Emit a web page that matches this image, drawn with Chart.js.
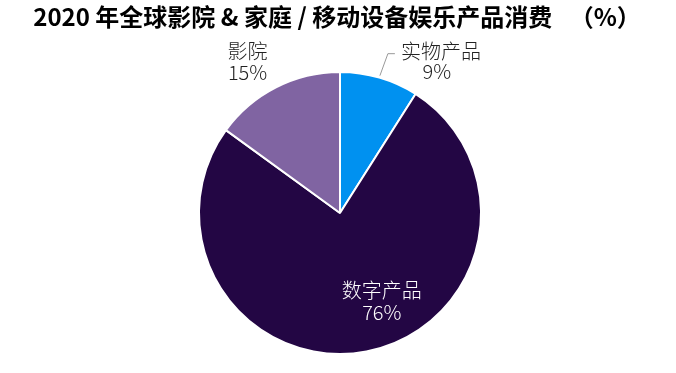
<!DOCTYPE html>
<html>
<head>
<meta charset="utf-8">
<script src="https://cdn.jsdelivr.net/npm/chart.js@4"></script>
<style>
  html, body { margin: 0; padding: 0; background: #fff; }
  #wrap { width: 676px; height: 373px; }
</style>
</head>
<body>
<div id="wrap"><canvas id="pie"></canvas></div>
<script>
var categories = ['实物产品', '数字产品', '影院'];
var shares = [9, 76, 15];
var colors = ['#0091f0', '#230644', '#8064a2'];
var titleText = '2020 年全球影院 & 家庭 / 移动设备娱乐产品消费 　（%）';

// labels drawn by hand, offsets tuned to the reference
var labelPlugin = {
    id: 'sliceLabels',
    afterDraw: function (chart) {
        var c = chart.ctx;
        c.save();
        // title
        c.fillStyle = '#000';
        c.font = 'bold 24px "Noto Sans CJK SC"';
        c.textAlign = 'center';
        c.textBaseline = 'middle';
        c.fillText(titleText, 337, 17);

        var arcs = chart.getDatasetMeta(0).data;
        c.font = '300 20px "Noto Sans CJK SC"';
        arcs.forEach(function (arc, i) {
            var mid = (arc.startAngle + arc.endAngle) / 2;
            var r = arc.outerRadius;
            var x, y;
            if (i === 1) {
                c.fillStyle = '#fff';
                x = arc.x + Math.cos(mid) * r * 0.56;
                y = arc.y + Math.sin(mid) * r * 0.56;
                c.fillText(categories[i], x + 27, y);
                c.fillText(shares[i] + '%', x + 27, y + 22);
            } else if (i === 0) {
                var x0 = arc.x + Math.cos(mid) * (r + 2);
                var y0 = arc.y + Math.sin(mid) * (r + 2);
                var x1 = x0 + 8, y1 = y0 - 22;
                c.strokeStyle = '#999';
                c.lineWidth = 1;
                c.beginPath();
                c.moveTo(x0, y0);
                c.lineTo(x1, y1);
                c.lineTo(x1 + 7, y1);
                c.stroke();
                c.fillStyle = '#222';
                c.fillText(categories[i], x1 + 53, y1 - 2);
                c.fillText(shares[i] + '%', x1 + 49, y1 + 18);
            } else {
                x = arc.x + Math.cos(mid) * r * 1.1;
                y = arc.y + Math.sin(mid) * r * 1.1;
                c.fillStyle = '#222';
                c.fillText(categories[i], x - 22, y - 23);
                c.fillText(shares[i] + '%', x - 22, y - 2);
            }
        });
        c.restore();
    }
};

new Chart(document.getElementById('pie'), {
    type: 'pie',
    data: {
        labels: categories,
        datasets: [{
            data: shares,
            backgroundColor: colors,
            borderColor: '#fff',
            borderWidth: 2
        }]
    },
    options: {
        responsive: true,
        maintainAspectRatio: false,
        animation: false,
        layout: { padding: { top: 71, bottom: 18, left: 198, right: 194 } },
        plugins: {
            legend: { display: false },
            title: { display: false },
            tooltip: { enabled: false }
        }
    },
    plugins: [labelPlugin]
});
</script>
</body>
</html>
